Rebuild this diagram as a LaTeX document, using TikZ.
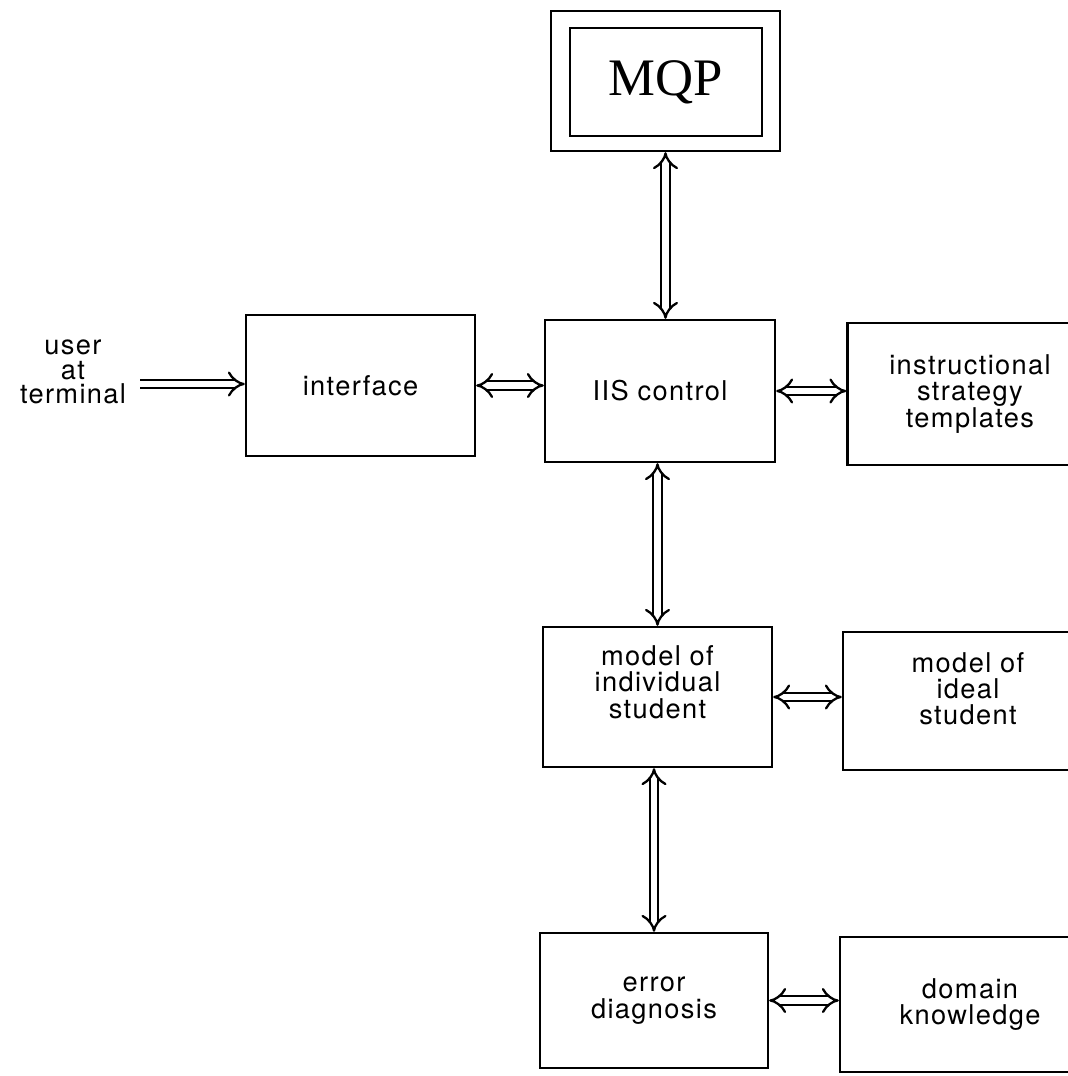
\documentclass[tikz,border=0pt]{standalone}
\usepackage{fontspec}
\setmainfont{TeX Gyre Heros}
\newfontfamily\mqpfont{Liberation Serif}
\newfontfamily\labelfont[LetterSpace=5]{TeX Gyre Heros}
\usetikzlibrary{shapes, arrows, arrows.meta}

\begin{document}
\begin{tikzpicture}[x=0.02cm, y=-0.02cm,
	box/.style={draw, line width=1.4pt, align=center, font=\labelfont\fontsize{15.5}{15}\selectfont},
	link/.style={double, line width=1.3pt, double distance=3.6pt, {Implies}-{Implies}},
	feed/.style={double, line width=1.3pt, double distance=3.6pt, -{Implies}}]
	\useasboundingbox (0,0) rectangle (1068,1076);
	\clip (0,0) rectangle (1068,1076);
	%MQP
		\node[box, minimum width=4.58cm, minimum height=2.8cm] (mqpframe) at (665.5,81) {};
		\node[box, minimum width=3.84cm, minimum height=2.16cm, font=\mqpfont\fontsize{30}{30}\selectfont] (mqp) at (666,82) {MQP};
	%User
		\node[align=center, font=\labelfont\fontsize{15.5}{14}\selectfont] (user) at (73,372) {user\\at\\terminal};
		\coordinate (userend) at (140,384);
	%Interface
		\node[box, minimum width=4.58cm, minimum height=2.82cm] (interface) at (360.5,385.5) {interface};
	%IIS control
		\node[box, minimum width=4.6cm, minimum height=2.84cm] (iis) at (660,391) {IIS control};
	%Templates
		\node[box, minimum width=4.9cm, minimum height=2.84cm] (templates) at (970,394) {instructional\\strategy\\templates};
	%Individual student
		\node[box, minimum width=4.58cm, minimum height=2.8cm, text depth=0.6cm] (individual) at (657.5,697) {model of\\individual\\student};
	%Ideal student
		\node[box, minimum width=5cm, minimum height=2.76cm, text depth=0.5cm] (ideal) at (968,701) {model of\\ideal\\student};
	%Error diagnosis
		\node[box, minimum width=4.56cm, minimum height=2.7cm] (error) at (654,1000.5) {error\\diagnosis};
	%Domain knowledge
		\node[box, minimum width=5.2cm, minimum height=2.7cm] (domain) at (970,1004.5) {domain\\knowledge};
	%Connections
		\draw[feed] (userend) -- (userend -| interface.west);
		\draw[link] (interface.east) -- (interface.east -| iis.west);
		\draw[link] (iis.east) -- (iis.east -| templates.west);
		\draw[link] (mqpframe.south) -- (mqpframe.south |- iis.north);
		\draw[link] (individual.north |- iis.south) -- (individual.north);
		\draw[link] (individual.east) -- (individual.east -| ideal.west);
		\draw[link] (error.north |- individual.south) -- (error.north);
		\draw[link] (error.east) -- (error.east -| domain.west);
\end{tikzpicture}
\end{document}
